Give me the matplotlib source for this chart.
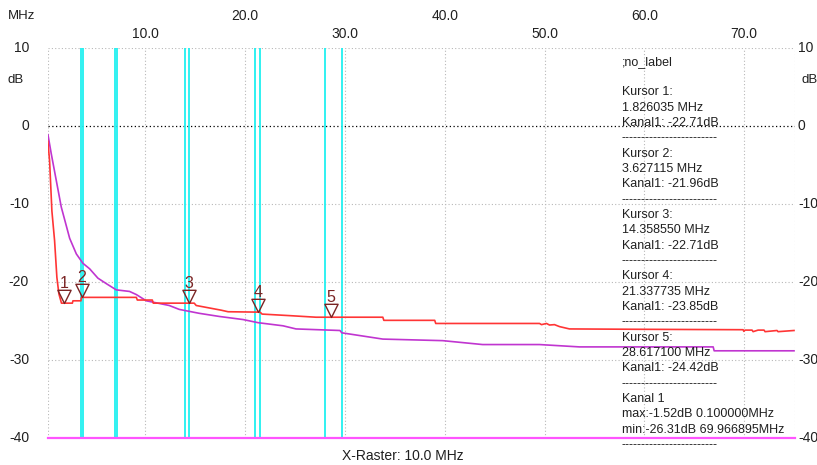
import numpy as np
import matplotlib
matplotlib.use('Agg')
import matplotlib.pyplot as plt
from matplotlib.path import Path

plt.rcParams['font.family'] = ['Liberation Sans', 'DejaVu Sans']
plt.rcParams['font.size'] = 9

# Kanal 1 (red) frequency / level
red_f = [0.1, 0.24, 0.41, 0.64, 0.91, 1.14, 1.34, 1.6, 2.69, 2.75, 3.55, 3.6, 9.1, 9.2,
         10.7, 10.8, 14.9, 15.1, 17.6, 18.3, 21.5, 21.7, 24.5, 27.1, 33.8, 33.9, 39.0, 39.1,
         49.5, 49.7, 50.2, 50.5, 51.0, 51.5, 52.5, 60.0, 69.9, 69.97, 70.1, 70.8, 70.9, 71.4,
         72.0, 72.1, 73.3, 73.4, 75.0]
red_db = [-1.52, -2.0, -4.5, -10.9, -14.7, -19.4, -21.5, -22.7, -22.7, -22.4, -22.4, -21.96, -21.96, -22.3,
          -22.3, -22.7, -22.7, -23.0, -23.6, -23.8, -23.85, -24.1, -24.3, -24.5, -24.5, -24.9, -24.9, -25.3,
          -25.3, -25.45, -25.3, -25.5, -25.45, -25.7, -26.0, -26.05, -26.1, -26.31, -26.15, -26.15, -26.35, -26.15,
          -26.15, -26.35, -26.2, -26.35, -26.2]

# Kanal 2 (magenta)
mag_f = [0.1, 0.24, 0.58, 1.08, 1.58, 2.42, 3.09, 3.75, 4.42, 5.25, 6.09, 7.09, 8.42, 9.1,
         10.1, 12.4, 13.4, 15.4, 17.4, 19.8, 21.3, 23.8, 25.1, 29.5, 29.7, 33.8, 39.8, 43.8,
         49.5, 53.5, 66.9, 67.0, 75.0]
mag_db = [-1.0, -1.1, -3.6, -7.0, -10.4, -14.4, -16.4, -17.6, -18.3, -19.5, -20.2, -21.0, -21.2, -21.6,
          -22.4, -23.0, -23.5, -24.0, -24.4, -24.8, -25.2, -25.6, -26.0, -26.2, -26.5, -27.3, -27.5, -28.0,
          -28.0, -28.3, -28.3, -28.8, -28.8]

# band edges (cyan)
band_f = [3.6, 3.8, 7.0, 7.2, 14.0, 14.35, 21.0, 21.45, 28.0, 29.7]

# cursors
cur_f = [1.826035, 3.627115, 14.358550, 21.337735, 28.617100]
cur_db = [-22.71, -21.96, -22.71, -23.85, -24.42]
cur_lbl = ['1', '2', '3', '4', '5']

xticks = [10, 20, 30, 40, 50, 60, 70]
yticks = [10, 0, -10, -20, -30, -40]

info = [';no_label', '',
        'Kursor 1:', '1.826035 MHz', 'Kanal1: -22.71dB', '-' * 24,
        'Kursor 2:', '3.627115 MHz', 'Kanal1: -21.96dB', '-' * 24,
        'Kursor 3:', '14.358550 MHz', 'Kanal1: -22.71dB', '-' * 24,
        'Kursor 4:', '21.337735 MHz', 'Kanal1: -23.85dB', '-' * 24,
        'Kursor 5:', '28.617100 MHz', 'Kanal1: -24.42dB', '-' * 24,
        'Kanal 1', 'max:-1.52dB 0.100000MHz', 'min:-26.31dB 69.966895MHz', '-' * 24]

W, H = 817, 465
fig = plt.figure(figsize=(W / 100, H / 100), dpi=100)
L, R, T, B = 48, 795, 47.7, 438.3
ax = fig.add_axes([L / W, 1 - B / H, (R - L) / W, (B - T) / H])
ax.set_xlim(0.25, 75.1)
ax.set_ylim(-40, 10)
for s in ax.spines.values():
    s.set_visible(False)
ax.set_xticks([])
ax.set_yticks([])

txtc = '#202020'
grid_c = '#b8b8b8'
for x in xticks:
    ax.axvline(x, color=grid_c, ls=(0, (1, 2)), lw=0.8)
for y in [10, -10, -20, -30]:
    ax.axhline(y, color=grid_c, ls=(0, (1, 2)), lw=0.8)
ax.axvline(0.25, color=grid_c, ls=(0, (1, 2)), lw=0.8)
ax.axvline(75.1, color=grid_c, ls=(0, (1, 2)), lw=0.8)
ax.axhline(0, color='#000000', ls=(0, (1, 2)), lw=0.9)

for f in band_f:
    ax.axvline(f, color='#20f0f0', lw=1.3)

ax.plot(mag_f, mag_db, color='#c035d0', lw=1.2)
ax.plot(red_f, red_db, color='#ff3535', lw=1.2)
ax.axhline(-40, color='#ff55ff', lw=1.6, clip_on=False)

tri = Path([(-0.5, 1), (0.5, 1), (0, 0), (-0.5, 1)], [1, 2, 2, 79])
ax.plot(cur_f, cur_db, ls='none', marker=tri, ms=19, mfc='none', mec='#7a2424', mew=1.0)
for f, d, lb in zip(cur_f, cur_db, cur_lbl):
    ax.annotate(lb, (f, d), xytext=(0, 14), textcoords='offset points',
                ha='center', va='center', color='#7a2424', fontsize=11.5)

# top x labels, alternating rows
xt = ax.get_xaxis_transform()
for i, x in enumerate(xticks):
    yy = 1 + (47.7 - 34) / (B - T) if i % 2 == 0 else 1 + (47.7 - 16) / (B - T)
    ax.text(x, yy, f'{x:.1f}', transform=xt, ha='center', va='center', color=txtc,
            fontsize=10, clip_on=False)

yt = ax.get_yaxis_transform()
for y in yticks:
    ax.text(-19 / (R - L), y, str(y), transform=yt, ha='right', va='center', color=txtc, fontsize=10)
    ax.text(1 + 3 / (R - L), y, str(y), transform=yt, ha='left', va='center', color=txtc, fontsize=10)

fig.text(8 / W, 1 - 16 / H, 'MHz', ha='left', va='center', color=txtc, fontsize=9.5)
fig.text(8 / W, 1 - 80 / H, 'dB', ha='left', va='center', color=txtc, fontsize=9.5)
fig.text(801 / W, 1 - 80 / H, 'dB', ha='left', va='center', color=txtc, fontsize=9.5)
fig.text(403 / W, 1 - 456 / H, 'X-Raster: 10.0 MHz', ha='center', va='center', color=txtc, fontsize=10)

for k, line in enumerate(info):
    fig.text(622 / W, 1 - (61.7 + k * 15.33) / H, line, ha='left', va='center', color=txtc)

fig.savefig('out.png', dpi=100)
